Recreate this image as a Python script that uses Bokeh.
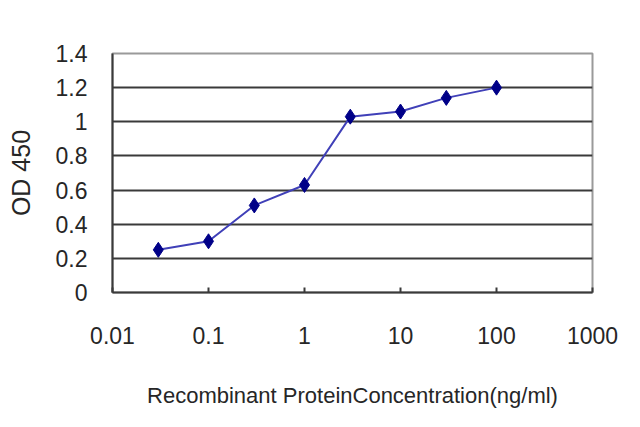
from bokeh.plotting import figure
from bokeh.models import FixedTicker, ColumnDataSource
from bokeh.embed import file_html
from bokeh.resources import INLINE

# Data
concentration = [0.03, 0.1, 0.3, 1, 3, 10, 30, 100]
od450 = [0.25, 0.30, 0.51, 0.63, 1.03, 1.06, 1.14, 1.20]

x_ticks = [0.01, 0.1, 1, 10, 100, 1000]
x_tick_labels = ["0.01", "0.1", "1", "10", "100", "1000"]
y_ticks = [0, 0.2, 0.4, 0.6, 0.8, 1.0, 1.2, 1.4]
y_tick_labels = ["0", "0.2", "0.4", "0.6", "0.8", "1", "1.2", "1.4"]
y_grid = [0.2, 0.4, 0.6, 0.8, 1.0, 1.2]

x_title = "Recombinant ProteinConcentration(ng/ml)"
y_title = "OD 450"

FONT = "Liberation Sans"
TEXT = "#262626"

p = figure(width=632, height=419, x_axis_type="log",
           x_range=(0.01, 1000), y_range=(0, 1.4),
           output_backend="svg", toolbar_location=None,
           min_border_left=112, min_border_right=40,
           min_border_top=53, min_border_bottom=127,
           background_fill_color="white", border_fill_color="white")

p.outline_line_color = "#9a9a9a"
p.outline_line_width = 2

src = ColumnDataSource(dict(x=concentration, y=od450))
p.line("x", "y", source=src, line_color="#4040b8", line_width=2)
p.scatter("x", "y", source=src, marker="diamond", size=15,
          fill_color="#000088", line_color="#000088")

# grid
p.xgrid.grid_line_color = None
p.ygrid.ticker = FixedTicker(ticks=y_grid)
p.ygrid.grid_line_color = "#3a3a3a"
p.ygrid.grid_line_width = 2

# x axis
xa = p.xaxis[0]
xa.ticker = FixedTicker(ticks=x_ticks)
xa.major_label_overrides = {t: l for t, l in zip(x_ticks, x_tick_labels)}
xa.minor_tick_line_color = None
xa.major_tick_in = 5
xa.major_tick_out = 0
xa.major_tick_line_color = "#3a3a3a"
xa.major_tick_line_width = 2
xa.axis_line_color = "#3a3a3a"
xa.axis_line_width = 2
xa.major_label_text_font = FONT
xa.major_label_text_font_size = "23px"
xa.major_label_text_color = TEXT
xa.major_label_standoff = 34
xa.axis_label = x_title
xa.axis_label_text_font = FONT
xa.axis_label_text_font_size = "22px"
xa.axis_label_text_font_style = "normal"
xa.axis_label_text_color = TEXT
xa.axis_label_standoff = 36

# y axis
ya = p.yaxis[0]
ya.ticker = FixedTicker(ticks=y_ticks)
ya.major_label_overrides = {t: l for t, l in zip(y_ticks, y_tick_labels)}
ya.minor_tick_line_color = None
ya.major_tick_line_color = None
ya.axis_line_color = "#3a3a3a"
ya.axis_line_width = 2
ya.major_label_text_font = FONT
ya.major_label_text_font_size = "23px"
ya.major_label_text_color = TEXT
ya.major_label_standoff = 19
ya.axis_label = y_title
ya.axis_label_text_font = FONT
ya.axis_label_text_font_size = "25px"
ya.axis_label_text_font_style = "normal"
ya.axis_label_text_color = TEXT
ya.axis_label_standoff = 18

open("out.html", "w").write(file_html(p, INLINE))
